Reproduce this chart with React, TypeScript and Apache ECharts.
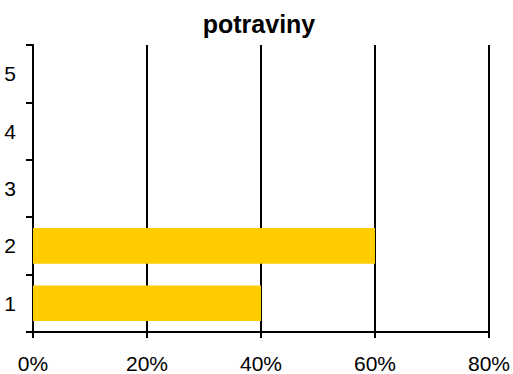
import React, { useEffect, useRef } from "react";
import * as echarts from "echarts";

const categories = ["1", "2", "3", "4", "5"];
const values = [0.4, 0.6, 0, 0, 0];
const xTicks = [0, 0.2, 0.4, 0.6, 0.8];
const title = "potraviny";

export default function App() {
  const ref = useRef<HTMLDivElement>(null);
  useEffect(() => {
    if (!ref.current) return;
    const chart = echarts.init(ref.current, null, { renderer: "svg" });
    const font = "'Liberation Sans', Arial, sans-serif";
    chart.setOption({
      animation: false,
      backgroundColor: "#ffffff",
      title: {
        text: title,
        left: 254,
        textAlign: "center",
        top: 6,
        textStyle: { fontFamily: font, fontSize: 25, fontWeight: "bold", color: "#000" },
      },
      grid: { left: 33, right: 23, top: 45, bottom: 42, containLabel: false },
      xAxis: {
        type: "value",
        min: xTicks[0],
        max: xTicks[xTicks.length - 1],
        interval: 0.2,
        axisLine: { show: true, lineStyle: { color: "#000", width: 2 } },
        axisTick: { show: true, length: 6, lineStyle: { color: "#000", width: 2 } },
        splitLine: { show: true, lineStyle: { color: "#000", width: 2 } },
        axisLabel: {
          margin: 21,
          fontFamily: font,
          fontSize: 21,
          color: "#000",
          formatter: (v: number) => Math.round(v * 100) + "%",
        },
      },
      yAxis: {
        type: "category",
        data: categories,
        boundaryGap: true,
        axisLine: { show: true, lineStyle: { color: "#000", width: 2 } },
        axisTick: { show: true, length: 7, alignWithLabel: false, lineStyle: { color: "#000", width: 2 } },
        splitLine: { show: false },
        axisLabel: { margin: 17, fontFamily: font, fontSize: 21, color: "#000" },
      },
      series: [
        {
          type: "bar",
          data: values,
          barCategoryGap: "38%",
          itemStyle: { color: "#FFCC00" },
        },
      ],
    });
    return () => chart.dispose();
  }, []);
  return (
    <div
      ref={ref}
      style={{ position: "fixed", left: 0, top: 0, width: 513, height: 374 }}
    />
  );
}
